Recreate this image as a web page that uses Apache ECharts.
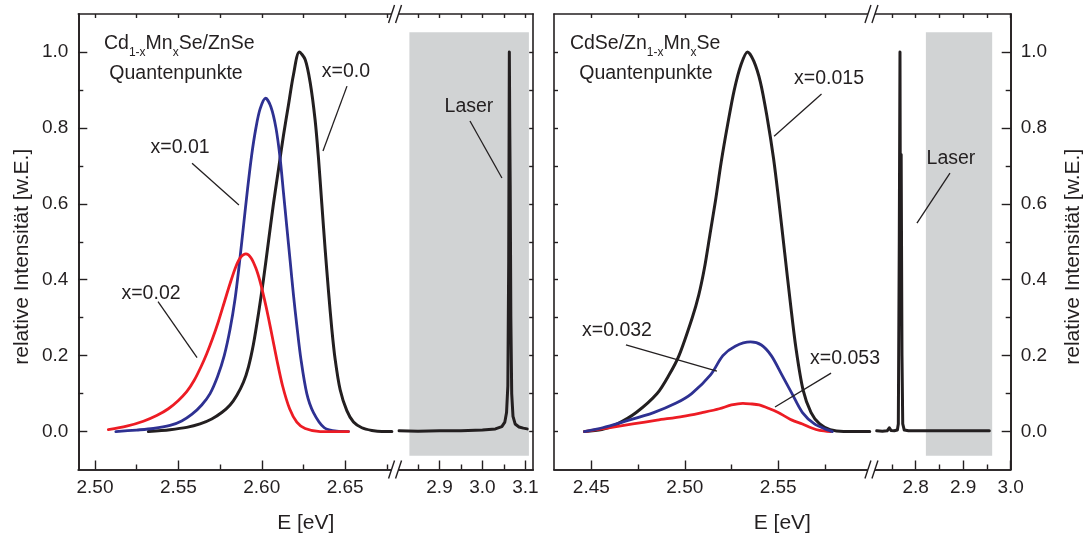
<!DOCTYPE html>
<html><head><meta charset="utf-8">
<script src="https://cdn.jsdelivr.net/npm/echarts@6/dist/echarts.min.js"></script>
<style>html,body{margin:0;padding:0;background:#fff}#c{width:1086px;height:540px}</style>
</head><body><div id="c"></div>
<script>
const FONT = "'Liberation Sans', Arial, Helvetica, sans-serif";
const INK = '#231f20', RED = '#ed1c24', BLUE = '#2e3192', GREY = '#d1d3d4';

// ---------- Left panel: Cd1-xMnxSe/ZnSe ----------
const L_E_x000 = [2.532,2.545,2.555,2.563,2.570,2.576,2.581,2.585,2.589,2.592,2.595,2.598,2.601,2.604,2.607,2.610,2.613,2.616,2.619,2.6225,2.626,2.629,2.632,2.634,2.636,2.638,2.640,2.642,2.644,2.647,2.651,2.655,2.660,2.666,2.672,2.678];
const L_I_x000 = [0.000,0.005,0.011,0.020,0.033,0.050,0.070,0.095,0.130,0.170,0.230,0.310,0.400,0.500,0.600,0.690,0.780,0.860,0.940,1.000,0.980,0.920,0.820,0.720,0.600,0.480,0.370,0.270,0.190,0.110,0.055,0.025,0.010,0.003,0.000,0.000];
const L_E_x001 = [2.5125,2.525,2.535,2.545,2.552,2.558,2.564,2.569,2.5735,2.5775,2.581,2.584,2.5865,2.589,2.5915,2.594,2.5965,2.599,2.6023,2.6055,2.6085,2.611,2.613,2.615,2.617,2.619,2.621,2.6235,2.627,2.631,2.6375,2.645,2.652];
const L_I_x001 = [0.000,0.004,0.008,0.016,0.028,0.045,0.070,0.100,0.145,0.200,0.270,0.350,0.440,0.540,0.640,0.730,0.800,0.850,0.878,0.855,0.800,0.720,0.630,0.540,0.450,0.360,0.280,0.190,0.100,0.050,0.010,0.001,0.000];
const L_E_x002 = [2.508,2.519,2.529,2.537,2.544,2.550,2.555,2.5595,2.5635,2.567,2.5705,2.574,2.5775,2.581,2.5845,2.5875,2.5905,2.5935,2.5965,2.599,2.6015,2.604,2.6065,2.609,2.6125,2.6167,2.621,2.626,2.635,2.652];
const L_I_x002 = [0.005,0.014,0.027,0.042,0.060,0.082,0.105,0.135,0.170,0.205,0.245,0.290,0.340,0.390,0.435,0.460,0.468,0.458,0.430,0.395,0.350,0.300,0.245,0.190,0.120,0.060,0.025,0.008,0.000,0.000];
const L_E_laser = [2.806,2.85,2.9,2.95,3.0,3.03,3.045,3.052,3.056,3.059,3.061,3.0625,3.0635,3.0645,3.066,3.068,3.071,3.076,3.085,3.095,3.104];
const L_I_laser = [0.002,0.001,0.002,0.002,0.004,0.007,0.013,0.025,0.050,0.120,0.450,1.000,0.800,0.650,0.300,0.100,0.040,0.020,0.012,0.009,0.007];

// ---------- Right panel: CdSe/Zn1-xMnxSe ----------
const R_E_x0015 = [2.4463,2.4556,2.4639,2.474,2.4852,2.4917,2.4969,2.504,2.5075,2.5105,2.5135,2.5165,2.5195,2.523,2.5265,2.530,2.5336,2.537,2.5405,2.544,2.5475,2.5505,2.5535,2.5565,2.5595,2.5633,2.5676,2.5722,2.5778,2.585,2.599];
const R_I_x0015 = [0.000,0.005,0.020,0.050,0.100,0.150,0.200,0.300,0.360,0.430,0.520,0.610,0.710,0.810,0.900,0.965,1.000,0.975,0.920,0.830,0.720,0.600,0.470,0.340,0.220,0.110,0.050,0.020,0.005,0.000,0.000];
const R_E_x0032 = [2.4463,2.456,2.4667,2.4833,2.4954,2.5037,2.5139,2.5204,2.527,2.5352,2.541,2.5463,2.5519,2.5574,2.563,2.5694,2.576,2.579];
const R_I_x0032 = [0.000,0.010,0.025,0.050,0.075,0.100,0.150,0.200,0.225,0.236,0.228,0.200,0.150,0.100,0.050,0.020,0.005,0.000];
const R_E_x0053 = [2.4463,2.4593,2.4722,2.4852,2.4991,2.5093,2.5185,2.525,2.5311,2.535,2.5398,2.5454,2.55,2.5537,2.5574,2.563,2.5676,2.5722,2.578];
const R_I_x0053 = [0.000,0.010,0.020,0.030,0.040,0.050,0.060,0.070,0.0744,0.073,0.070,0.060,0.050,0.040,0.030,0.020,0.010,0.003,0.000];
const R_E_laser = [2.718,2.73,2.74,2.7445,2.748,2.755,2.7615,2.7635,2.7655,2.767,2.768,2.7695,2.7712,2.7728,2.776,2.785,2.8,2.85,2.9,2.955];
const R_I_laser = [0.002,0.001,0.002,0.010,0.003,0.002,0.004,0.020,0.500,1.000,0.450,0.730,0.200,0.020,0.004,0.002,0.002,0.002,0.002,0.002];

// grey laser-filter bands [E from, E to], [I from, I to]
const L_BAND_E = [2.83, 3.108], R_BAND_E = [2.8215, 2.961], BAND_I = [-0.064, 1.052];

// axis ranges and ticks (4 sub-plots: left-low, left-high, right-low, right-high)
const X_RANGE = [[2.49, 2.68], [2.8, 3.118], [2.43, 2.60], [2.71, 3.0]];
const X_MAJOR = [[2.50, 2.55, 2.60, 2.65], [2.9, 3.0, 3.1], [2.45, 2.50, 2.55], [2.8, 2.9, 3.0]];
const X_MINOR = [[2.525, 2.575, 2.625, 2.675], [2.85, 2.95, 3.05], [2.475, 2.525, 2.575], [2.75, 2.85, 2.95]];
const X_DEC = [2, 1, 2, 1];
const Y_RANGE = [-0.1, 1.1];
const Y_MAJOR = [0, 0.2, 0.4, 0.6, 0.8, 1.0];
const Y_MINOR = [0.1, 0.3, 0.5, 0.7, 0.9];
const Y_ALL = [0, 0.1, 0.2, 0.3, 0.4, 0.5, 0.6, 0.7, 0.8, 0.9, 1.0];
const Y_NAME = 'relative Intensität [w.E.]';
const X_NAME = 'E [eV]';

const GRID_BOX = [
  {left: 78.3, width: 316.9}, {left: 396.5, width: 136.7},
  {left: 554.0, width: 317.6}, {left: 872.9, width: 137.8}
];
const TOP = 14, H = 455.5;

const chart = echarts.init(document.getElementById('c'), null, {renderer: 'canvas'});
const axLine = {show: true, onZero: false, lineStyle: {color: INK, width: 1.6}};
const tickStyle = {color: INK, width: 1.4};
const lblStyle = {fontSize: 19, fontFamily: FONT, color: INK};

const grids = GRID_BOX.map(b => ({left: b.left, width: b.width, top: TOP, height: H, containLabel: false, outerBoundsMode: 'none'}));

const xAxes = [];
for (let g = 0; g < 4; g++) {
  const base = {type: 'value', gridIndex: g, min: X_RANGE[g][0], max: X_RANGE[g][1], splitLine: {show: false}, axisLine: axLine};
  xAxes.push(Object.assign({}, base, {position: 'bottom',
    axisTick: {show: true, inside: true, length: 9, lineStyle: tickStyle, customValues: X_MAJOR[g]},
    axisLabel: Object.assign({show: true, margin: 9, customValues: X_MAJOR[g], formatter: (v => (+v).toFixed(X_DEC[g]))}, lblStyle)}));
  xAxes.push(Object.assign({}, base, {position: 'bottom',
    axisTick: {show: true, inside: true, length: 5, lineStyle: tickStyle, customValues: X_MINOR[g]},
    axisLabel: {show: false}}));
  xAxes.push(Object.assign({}, base, {position: 'top',
    axisTick: {show: true, inside: true, length: 4, lineStyle: tickStyle, customValues: X_MAJOR[g].concat(X_MINOR[g])},
    axisLabel: {show: false}}));
}

const yBase = {type: 'value', min: Y_RANGE[0], max: Y_RANGE[1], splitLine: {show: false}, axisLine: axLine};
const nameStyle = {fontSize: 21, fontFamily: FONT, color: INK, padding: [0, 30, 0, 0]};
const yAxes = [
  Object.assign({}, yBase, {gridIndex: 0, position: 'left', name: Y_NAME, nameLocation: 'middle', nameRotate: 90, nameGap: 46, nameTextStyle: nameStyle,
    axisTick: {show: true, inside: true, length: 9, lineStyle: tickStyle, customValues: Y_MAJOR},
    axisLabel: Object.assign({show: true, margin: 10, customValues: Y_MAJOR, formatter: v => (+v).toFixed(1)}, lblStyle)}),
  Object.assign({}, yBase, {gridIndex: 0, position: 'left',
    axisTick: {show: true, inside: true, length: 5, lineStyle: tickStyle, customValues: Y_MINOR}, axisLabel: {show: false}}),
  Object.assign({}, yBase, {gridIndex: 1, position: 'right',
    axisTick: {show: true, inside: true, length: 4, lineStyle: tickStyle, customValues: Y_ALL}, axisLabel: {show: false}}),
  Object.assign({}, yBase, {gridIndex: 2, position: 'left',
    axisTick: {show: true, inside: true, length: 4, lineStyle: tickStyle, customValues: Y_ALL}, axisLabel: {show: false}}),
  Object.assign({}, yBase, {gridIndex: 3, position: 'right', name: Y_NAME, nameLocation: 'middle', nameRotate: 90, nameGap: 52, nameTextStyle: nameStyle,
    axisTick: {show: true, inside: true, length: 9, lineStyle: tickStyle, customValues: Y_MAJOR},
    axisLabel: Object.assign({show: true, margin: 10, customValues: Y_MAJOR, formatter: v => (+v).toFixed(1)}, lblStyle)}),
  Object.assign({}, yBase, {gridIndex: 3, position: 'right',
    axisTick: {show: true, inside: true, length: 5, lineStyle: tickStyle, customValues: Y_MINOR}, axisLabel: {show: false}})
];

function zip(E, I) { return E.map((e, k) => [e, I[k]]); }
function curve(name, E, I, color, width, xi, yi, z, smooth) {
  return {type: 'line', name, xAxisIndex: xi, yAxisIndex: yi, data: zip(E, I), showSymbol: false, symbol: 'none',
    smooth: smooth ? 0.3 : false, silent: true, z,
    lineStyle: {color, width, cap: 'round', join: 'round'}};
}
function band(E, I) {
  return {silent: true, itemStyle: {color: GREY}, data: [[{coord: [E[0], I[0]]}, {coord: [E[1], I[1]]}]]};
}

const sLaserL = curve('Laser L', L_E_laser, L_I_laser, INK, 3, 3, 2, 5, false);
sLaserL.markArea = band(L_BAND_E, BAND_I);
const sLaserR = curve('Laser R', R_E_laser, R_I_laser, INK, 3, 9, 4, 5, false);
sLaserR.markArea = band(R_BAND_E, BAND_I);

const series = [
  curve('x=0.0', L_E_x000, L_I_x000, INK, 3, 0, 0, 3, true),
  curve('x=0.01', L_E_x001, L_I_x001, BLUE, 2.8, 0, 0, 4, true),
  curve('x=0.02', L_E_x002, L_I_x002, RED, 2.8, 0, 0, 5, true),
  sLaserL,
  curve('x=0.015', R_E_x0015, R_I_x0015, INK, 3, 6, 3, 3, true),
  curve('x=0.053', R_E_x0053, R_I_x0053, RED, 2.8, 6, 3, 4, true),
  curve('x=0.032', R_E_x0032, R_I_x0032, BLUE, 2.8, 6, 3, 5, true),
  sLaserR
];

chart.setOption({animation: false, backgroundColor: '#fff', grid: grids, xAxis: xAxes, yAxis: yAxes, series});

// ---------- annotations (data coordinates of each sub-plot) ----------
const GRID_AXES = [[0, 0], [3, 2], [6, 3], [9, 4]];
const ANNOTS = [
  {g: 0, text: 'x=0.0', at: [2.6505, 0.947], line: [[2.6511, 0.910], [2.6367, 0.739]]},
  {g: 0, text: 'x=0.01', at: [2.551, 0.749], line: [[2.5582, 0.707], [2.5863, 0.597]]},
  {g: 0, text: 'x=0.02', at: [2.5336, 0.364], line: [[2.5378, 0.342], [2.5612, 0.195]]},
  {g: 1, text: 'Laser', at: [2.9686, 0.857], line: [[2.9709, 0.818], [3.0453, 0.668]]},
  {g: 2, text: 'x=0.015', at: [2.5772, 0.931], line: [[2.5732, 0.889], [2.5478, 0.778]]},
  {g: 2, text: 'x=0.032', at: [2.4637, 0.267], line: [[2.4685, 0.228], [2.5172, 0.159]]},
  {g: 2, text: 'x=0.053', at: [2.5858, 0.193], line: [[2.5783, 0.154], [2.5483, 0.0645]]},
  {g: 3, text: 'Laser', at: [2.8743, 0.718], line: [[2.8722, 0.681], [2.8027, 0.549]]},
  {g: 0, text: 'Quantenpunkte', at: [2.5486, 0.944]},
  {g: 2, text: 'Quantenpunkte', at: [2.4792, 0.944]}
];
const TITLES = [
  {g: 0, text: '{m|Cd}{s|1-x}{m|Mn}{s|x}{m|Se/ZnSe}', at: [2.5054, 1.022]},
  {g: 2, text: '{m|CdSe/Zn}{s|1-x}{m|Mn}{s|x}{m|Se}', at: [2.4385, 1.022]}
];

function px(g, p) { return chart.convertToPixel({xAxisIndex: GRID_AXES[g][0], yAxisIndex: GRID_AXES[g][1]}, p); }
const gfx = [];
ANNOTS.forEach(a => {
  const c = px(a.g, a.at);
  gfx.push({type: 'text', silent: true, z: 100, x: c[0], y: c[1],
    style: {text: a.text, fontSize: 19.5, fontFamily: FONT, fill: INK, align: 'center', verticalAlign: 'middle'}});
  if (a.line) {
    const p1 = px(a.g, a.line[0]), p2 = px(a.g, a.line[1]);
    gfx.push({type: 'line', silent: true, z: 100, shape: {x1: p1[0], y1: p1[1], x2: p2[0], y2: p2[1]},
      style: {stroke: INK, lineWidth: 1.3}});
  }
});
TITLES.forEach(t => {
  const c = px(t.g, t.at);
  gfx.push({type: 'text', silent: true, z: 100, x: c[0], y: c[1],
    style: {text: t.text, align: 'left', verticalAlign: 'middle', fill: INK,
      rich: {m: {fontSize: 19.5, fontFamily: FONT, fill: INK, lineHeight: 30},
             s: {fontSize: 12, fontFamily: FONT, fill: INK, lineHeight: 12, verticalAlign: 'bottom'}}}});
});
// x-axis titles centred under each panel
const yBottom = chart.convertToPixel({yAxisIndex: 0}, Y_RANGE[0]);
const yTop = chart.convertToPixel({yAxisIndex: 0}, Y_RANGE[1]);
[[0, 3], [6, 9]].forEach(pair => {
  const xl = chart.convertToPixel({xAxisIndex: pair[0]}, X_RANGE[pair[0] / 3][0]);
  const xr = chart.convertToPixel({xAxisIndex: pair[1]}, X_RANGE[pair[1] / 3][1]);
  gfx.push({type: 'text', silent: true, x: (xl + xr) / 2, y: yBottom + 54,
    style: {text: X_NAME, fontSize: 21, fontFamily: FONT, fill: INK, align: 'center', verticalAlign: 'middle'}});
});
// axis break marks
[[0, 3], [6, 9]].forEach(pair => {
  const a = chart.convertToPixel({xAxisIndex: pair[0]}, X_RANGE[pair[0] / 3][1]);
  const b = chart.convertToPixel({xAxisIndex: pair[1]}, X_RANGE[pair[1] / 3][0]);
  const cx = (a + b) / 2 - 0.8;
  [yTop, yBottom].forEach(y => {
    gfx.push({type: 'rect', silent: true, z: 90, shape: {x: cx - 3.5, y: y - 2.5, width: 7, height: 5}, style: {fill: '#fff'}});
    gfx.push({type: 'line', silent: true, z: 91, shape: {x1: cx - 6.5, y1: y + 9, x2: cx - 0.5, y2: y - 9}, style: {stroke: INK, lineWidth: 1.4}});
    gfx.push({type: 'line', silent: true, z: 91, shape: {x1: cx + 0.5, y1: y + 9, x2: cx + 6.5, y2: y - 9}, style: {stroke: INK, lineWidth: 1.4}});
  });
});
chart.setOption({graphic: gfx});
</script>
</body></html>
